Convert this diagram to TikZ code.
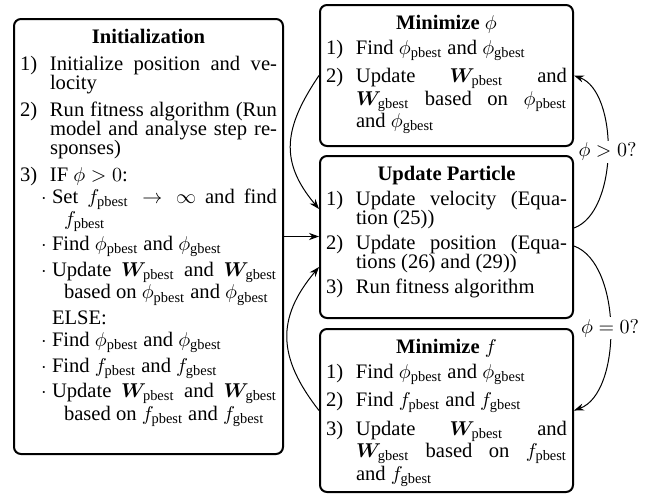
\documentclass[tikz,border=0pt]{standalone}
\usepackage{amsmath}
\usepackage{bm}
\usepackage{fontspec}
\setmainfont{Liberation Serif}
\usetikzlibrary{arrows.meta}

% list layout inside the boxes
\newlength{\itemgap}
\setlength{\itemgap}{3pt}
\newlength{\dotgap}
\setlength{\dotgap}{1.5pt}
\newcommand{\boxtitle}[1]{\vspace*{2pt}\noindent\hbox to \linewidth{\hfil\textbf{#1}\hfil}}
\newcommand{\numitem}[2]{\par\vspace{\itemgap}\hangindent=15pt\hangafter=1\noindent\hbox to 15pt{#1\hfil}#2}
\newcommand{\dotitem}[1]{\par\vspace{\dotgap}\hangindent=22pt\hangafter=1\noindent\hbox to 16pt{\hskip 10.5pt$\cdot$\hfil}#1}
\newcommand{\elseline}[1]{\par\vspace{2pt}\noindent\hskip 16pt #1}
\newcommand{\pbest}{_{\mathrm{pbest}}}
\newcommand{\gbest}{_{\mathrm{gbest}}}

\begin{document}
\begin{tikzpicture}[x=0.5pt,y=0.5pt]
\tikzstyle{every node}+=[font=\fontsize{10.3}{9.5}\selectfont]
\tikzstyle{stepbox}=[draw, line width=1pt, rounded corners=3.5pt, inner sep=3pt, anchor=north west]
\tikzstyle{flow}=[-{Stealth[length=5pt,width=3.6pt]}, line width=0.5pt]
\tikzstyle{cond}=[fill=white, inner sep=1pt]
\useasboundingbox (0,0) rectangle (659,-493);
% initialization
\node [stepbox] (init) at (13,-18) {\parbox[c][211.5pt][t]{128.5pt}{%
\setlength{\itemgap}{4pt}%
\boxtitle{Initialization}
\numitem{1)}{Initialize position and ve-\linebreak locity}
\numitem{2)}{Run fitness algorithm (Run\linebreak model and analyse step re-\linebreak sponses)}
\numitem{3)}{IF $\phi > 0$:}
\dotitem{Set $f\pbest \rightarrow \infty$ and find\linebreak $f\pbest$}
\dotitem{Find $\phi\pbest$ and $\phi\gbest$}
\dotitem{Update $\bm{W}\pbest$ and $\bm{W}\gbest$\linebreak based on $\phi\pbest$ and $\phi\gbest$}
\elseline{ELSE:}
\dotitem{Find $\phi\pbest$ and $\phi\gbest$}
\dotitem{Find $f\pbest$ and $f\gbest$}
\dotitem{Update $\bm{W}\pbest$ and $\bm{W}\gbest$\linebreak based on $f\pbest$ and $f\gbest$}}};
% minimize phi
\node [stepbox] (minphi) at (319,-4) {\parbox[c][64.5pt][t]{120.5pt}{%
\boxtitle{Minimize $\phi$}
\numitem{1)}{Find $\phi\pbest$ and $\phi\gbest$}
\numitem{2)}{Update $\bm{W}\pbest$ and\linebreak $\bm{W}\gbest$ based on $\phi\pbest$\linebreak and $\phi\gbest$}}};
% update particle
\node [stepbox] (update) at (319,-155) {\parbox[c][75pt][t]{120.5pt}{%
\boxtitle{Update Particle}
\numitem{1)}{Update velocity (Equa-\linebreak tion (25))}
\numitem{2)}{Update position (Equa-\linebreak tions (26) and (29))}
\numitem{3)}{Run fitness algorithm}}};
% minimize f
\node [stepbox] (minf) at (319,-328) {\parbox[c][75.5pt][t]{120.5pt}{%
\boxtitle{Minimize $f$}
\numitem{1)}{Find $\phi\pbest$ and $\phi\gbest$}
\numitem{2)}{Find $f\pbest$ and $f\gbest$}
\numitem{3)}{Update $\bm{W}\pbest$ and\linebreak $\bm{W}\gbest$ based on $f\pbest$\linebreak and $f\gbest$}}};
% connectors
\draw [flow] (init.east) -- (init.east -| update.west);
\draw [flow] (minphi.west) to [out=236, in=130, looseness=1.2] ([yshift=14pt]update.west);
\draw [flow] (minf.west) to [out=128, in=230, looseness=1.2] ([yshift=-15pt]update.west);
\draw [flow] ([yshift=4.5pt]update.east) to [out=20, in=-20, looseness=0.8] node [cond] {$\phi > 0?$} (minphi.east);
\draw [flow] ([yshift=-4.5pt]update.east) to [out=-20, in=20, looseness=0.8] node [cond] {$\phi = 0?$} (minf.east);
\end{tikzpicture}
\end{document}
